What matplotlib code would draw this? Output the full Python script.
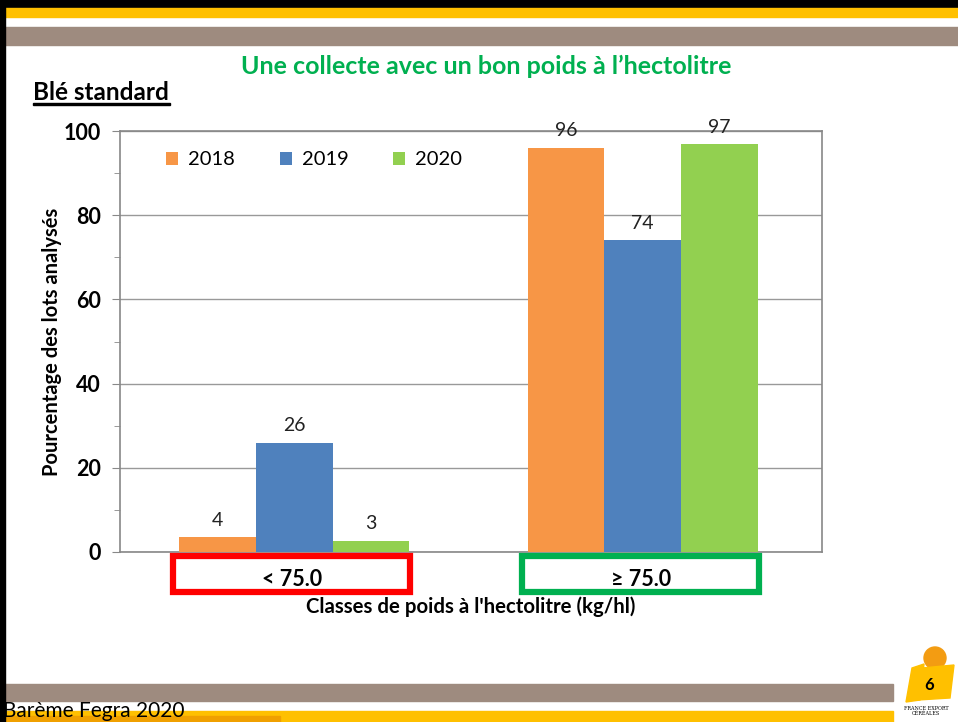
import numpy as np
import matplotlib.pyplot as plt
from matplotlib.patches import Rectangle, Ellipse, Polygon

plt.rcParams['font.family'] = ['Lato', 'DejaVu Sans']

# Data
classes = ['< 75.0', '≥ 75.0']
years = ['2018', '2019', '2020']
v2018 = [3.5, 96]
v2019 = [26, 74]
v2020 = [2.7, 96.9]
colors = ['#F79646', '#4F81BD', '#92D050']

W, H = 958, 722
fig = plt.figure(figsize=(W / 100, H / 100), dpi=100)

def box(x0, y0, x1, y1, **kw):
    # rectangle in pixel coords (origin top-left)
    fig.patches.append(Rectangle((x0 / W, 1 - y1 / H), (x1 - x0) / W, (y1 - y0) / H,
                                 transform=fig.transFigure, **kw))

def pts(p):
    return [(a / W, 1 - b / H) for a, b in p]

# Slide decorations
box(0, 0, W, 8, color='black', zorder=0)
box(5, 8, W, 17, color='#FFC000', zorder=0)
box(5, 27, W, 45, color='#9E8B7F', zorder=0)
box(0, 0, 5, H, color='black', zorder=1)
box(5, 684, 893, 701, color='#9E8B7F', zorder=0)
box(5, 711, 893, 722, color='#FFC000', zorder=0)
box(5, 716, 280, 722, color='#F0A000', zorder=0)

# logo
fig.patches.append(Ellipse((935 / W, 1 - 658 / H), 22 / W, 22 / H,
                           transform=fig.transFigure, color='#F39C12', zorder=0))
fig.patches.append(Polygon(pts([(912, 668), (924, 664), (920, 700), (906, 702)]),
                           transform=fig.transFigure, color='#FFC000', zorder=1))
fig.patches.append(Polygon(pts([(922, 668), (954, 665), (950, 698), (918, 700)]),
                           transform=fig.transFigure, color='#FFC000', zorder=1))
fig.text(929 / W, 1 - 685 / H, '6', fontsize=12, fontweight='bold', ha='center', va='center')
fig.text(926 / W, 1 - 711 / H, 'FRANCE EXPORT\nCÉRÉALES', fontsize=3.5, ha='center', va='center',
         family='DejaVu Serif', linespacing=1.1)

fig.text(3 / W, 1 - 711 / H, 'Barème Fegra 2020', fontsize=15, ha='left', va='center')
fig.text(486 / W, 1 - 66 / H, 'Une collecte avec un bon poids à l’hectolitre', fontsize=18,
         fontweight='bold', color='#00B050', ha='center', va='center')
fig.text(33 / W, 1 - 93 / H, 'Blé standard', fontsize=17.5, fontweight='bold',
         ha='left', va='center')
box(33, 103, 170, 105, color='black', zorder=2)

# Chart
ax = fig.add_axes([120 / W, 1 - 552 / H, (822 - 120) / W, (552 - 131) / H])
x = np.arange(len(classes))
width = 0.22
series = [v2018, v2019, v2020]
for i, (vals, c, lab) in enumerate(zip(series, colors, years)):
    bars = ax.bar(x + (i - 1) * width, vals, width, color=c, label=lab, zorder=3)
    for b, v in zip(bars, vals):
        ax.text(b.get_x() + b.get_width() / 2, v + 2, f'{v:.0f}', ha='center', va='bottom',
                fontsize=14, color='#222222')

ax.set_xlim(-0.5, 1.515)
ax.set_ylim(0, 100)
ax.set_yticks([0, 20, 40, 60, 80, 100])
ax.set_yticks(np.arange(10, 100, 20), minor=True)
ax.tick_params(axis='y', which='major', length=6, direction='out', labelsize=15.5,
               color='#888888', pad=8)
ax.tick_params(axis='y', which='minor', length=4, direction='out', color='#888888')
for lbl in ax.get_yticklabels():
    lbl.set_fontweight('bold')
ax.set_xticks([])
ax.grid(axis='y', color='#999999', linewidth=1, zorder=0)
for s in ax.spines.values():
    s.set_color('#888888')
    s.set_linewidth(1.2)
ax.set_ylabel('Pourcentage des lots analysés', fontsize=14.5, fontweight='bold')
ax.yaxis.set_label_coords(-0.083, 0.5)

leg = ax.legend(loc='upper left', ncol=3, frameon=False, fontsize=14.5,
                bbox_to_anchor=(0.04, 0.995), handlelength=0.6, handleheight=0.6,
                columnspacing=2.2, handletextpad=0.5)

# Category boxes
for xc, lab, ec in zip(x, classes, ['#FF0000', '#00B050']):
    cx = ax.transData.transform((xc, 0))[0]
    box(cx - 121, 556, cx + 116, 592, facecolor='white', edgecolor=ec, linewidth=4.5, zorder=2)
    fig.text((cx - 2) / W, 1 - 579 / H, lab, fontsize=15.5, fontweight='bold',
             ha='center', va='center')

fig.text(471 / W, 1 - 607 / H, "Classes de poids à l'hectolitre (kg/hl)", fontsize=14.7,
         fontweight='bold', ha='center', va='center')

fig.savefig('out.png', dpi=100)
